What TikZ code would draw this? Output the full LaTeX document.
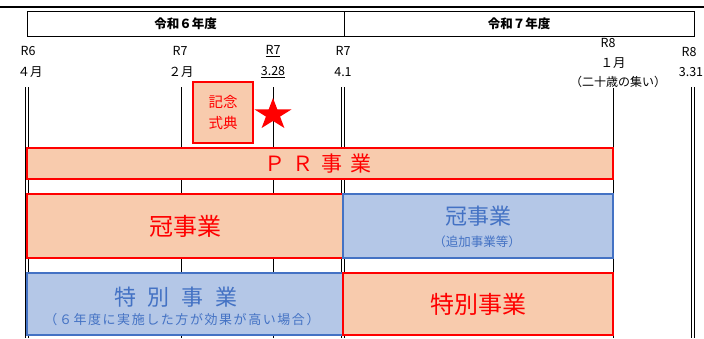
\documentclass[tikz,border=0pt]{standalone}
\usepackage{fontspec}
\setmainfont{Noto Sans CJK JP}
\definecolor{rd}{HTML}{FF0000}
\definecolor{peach}{HTML}{F8CBAD}
\definecolor{bfill}{HTML}{B4C7E7}
\definecolor{bline}{HTML}{4472C4}
\tikzset{
  hdr/.style={draw=black, line width=0.8pt, inner sep=0pt, font=\fontsize{12.5}{14}\selectfont\bfseries},
  datelbl/.style={inner sep=0pt, font=\fontsize{12.5}{14}\selectfont},
  redbox/.style={draw=rd, fill=peach, line width=2.2pt, inner sep=0pt, text=rd, align=center},
  bluebox/.style={draw=bline, fill=bfill, line width=1.8pt, inner sep=0pt, text=bline, align=center},
  sgl/.style={draw=black, line width=0.9pt}
}
\begin{document}
\begin{tikzpicture}[x=1pt,y=-1pt]
\useasboundingbox[fill=white] (0,0) rectangle (704,338);
\draw[line width=2pt] (0,7) -- (704,7);
\node[hdr, minimum width=317pt, minimum height=25pt] (y6) at (185.5,23.5) {令和６年度};
\node[hdr, minimum width=350pt, minimum height=25pt] (y7) at (519,23.5) {令和７年度};
% date labels
\node[datelbl] (r6a) at (28,51) {R6};
\node[datelbl] (r6b) at (30,72) {４月};
\node[datelbl] (r7a) at (180,51) {R7};
\node[datelbl] (r7b) at (181,72) {２月};
\node[datelbl] (r7c) at (273,51) {\underline{R7}};
\node[datelbl] (r7d) at (273,72) {\underline{3.28}};
\node[datelbl] (r7e) at (343,51) {R7};
\node[datelbl] (r7f) at (343,72) {4.1};
\node[datelbl] (r8a) at (608,43) {R8};
\node[datelbl] (r8b) at (613,63) {１月};
\node[datelbl, font=\fontsize{12}{14}\selectfont] (r8c) at (618,82) {（二十歳の集い）};
\node[datelbl] (r8d) at (689,52) {R8};
\node[datelbl] (r8e) at (691,72) {3.31};
% vertical lines
\foreach \xx in {27,343,693} {
  \draw[sgl, line width=0.8pt] (\xx-1.2,87) -- (\xx-1.2,338);
  \draw[sgl, line width=0.8pt] (\xx+1.2,87) -- (\xx+1.2,338);
}
\draw[sgl] (181,87) -- (181,338);
\draw[sgl] (273,87) -- (273,338);
\draw[sgl] (613,88) -- (613,338);
% ceremony
\node[redbox, minimum width=60pt, minimum height=61pt, font=\fontsize{14.5}{21}\selectfont] (kinen) at (223,112.5) {記念\\式典};
\fill[rd, shift={(273,114.6)}, xscale=1.17] (-90:16.6) -- (-54:6.34) -- (-18:16.6) -- (18:6.34) -- (54:16.6) -- (90:6.34) -- (126:16.6) -- (162:6.34) -- (198:16.6) -- (234:6.34) -- cycle;
% bars
\node[redbox, minimum width=586pt, minimum height=31pt] (pr) at (320,163.5) {};
\node[text=rd, inner sep=0pt, font=\fontsize{21}{24}\selectfont] (prt) at (318,164) {Ｐ\hspace{8pt}Ｒ\hspace{8pt}事\hspace{8pt}業};
\node[redbox, minimum width=316pt, minimum height=64pt, font=\fontsize{24}{28}\selectfont] (kan1) at (185,226) {冠事業};
\node[bluebox, minimum width=270pt, minimum height=64pt] (kan2) at (478,226) {};
\node[text=bline, inner sep=0pt, font=\fontsize{22}{24}\selectfont] (kan2t) at (478,216) {冠事業};
\node[text=bline, inner sep=0pt, font=\fontsize{12.5}{14}\selectfont] (kan2s) at (477,242) {（追加事業等）};
\node[bluebox, minimum width=316pt, minimum height=62pt] (tok1) at (185,304) {};
\node[text=bline, inner sep=0pt, font=\fontsize{22}{24}\selectfont] (tok1t) at (176,297) {特\hspace{12pt}別\hspace{12pt}事\hspace{12pt}業};
\node[text=bline, inner sep=0pt, font=\fontsize{13}{15}\selectfont\addfontfeatures{LetterSpace=12}] (tok1s) at (182,320) {（６年度に実施した方が効果が高い場合）};
\node[redbox, minimum width=270pt, minimum height=62pt, font=\fontsize{24}{28}\selectfont] (tok2) at (478,304) {特別事業};
\end{tikzpicture}
\end{document}
